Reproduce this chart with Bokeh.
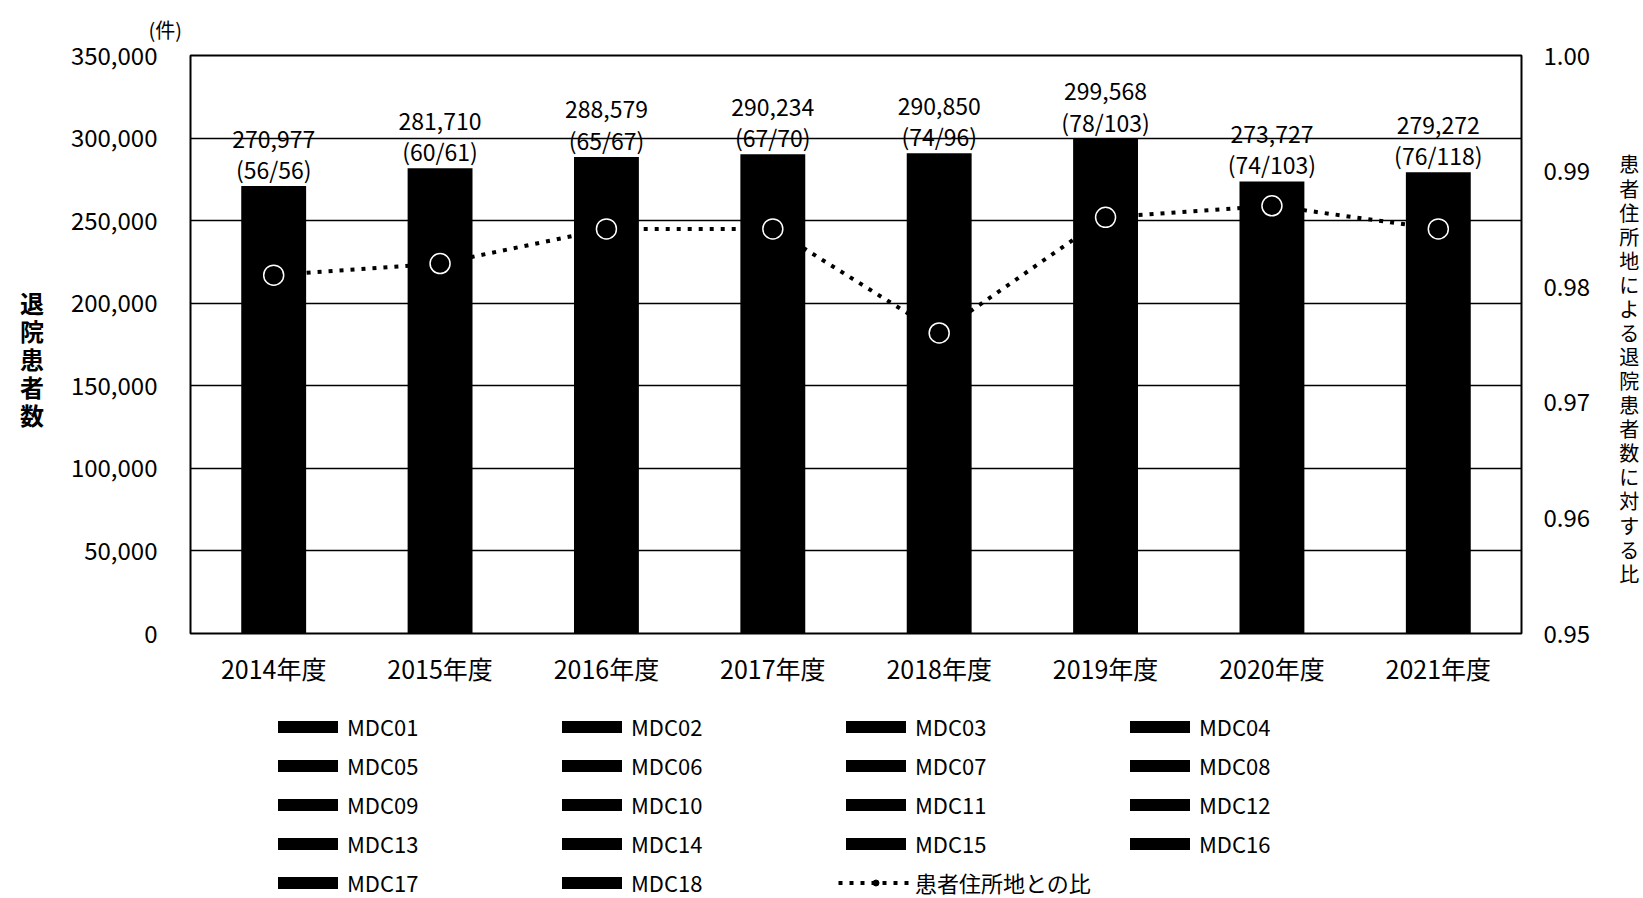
from bokeh.plotting import figure
from bokeh.layouts import column
from bokeh.models import (ColumnDataSource, FactorRange, Range1d, LinearAxis, FixedTicker,
                          NumeralTickFormatter, Legend, LegendItem, Title)
from bokeh.core.properties import value
from bokeh.embed import file_html
from bokeh.resources import INLINE

# Fiscal years on the category axis
years = ["2014年度", "2015年度", "2016年度", "2017年度",
         "2018年度", "2019年度", "2020年度", "2021年度"]
# Discharged patients (all MDC categories combined)
patients = [270977, 281710, 288579, 290234, 290850, 299568, 273727, 279272]
# Facility counts shown under each total
facilities = ["56/56", "60/61", "65/67", "67/70", "74/96", "78/103", "74/103", "76/118"]
# Ratio to discharged patients by patient address
ratio = [0.981, 0.982, 0.985, 0.985, 0.976, 0.986, 0.987, 0.985]
# Legend entries
mdc_names = ["MDC01", "MDC02", "MDC03", "MDC04", "MDC05", "MDC06",
             "MDC07", "MDC08", "MDC09", "MDC10", "MDC11", "MDC12",
             "MDC13", "MDC14", "MDC15", "MDC16", "MDC17", "MDC18"]
ratio_name = "患者住所地との比"

left_title = "退院患者数"
right_title = "患者住所地による退院患者数に対する比"
unit_text = "(件)"

left_ticks = [0, 50000, 100000, 150000, 200000, 250000, 300000, 350000]
right_ticks = [0.95, 0.96, 0.97, 0.98, 0.99, 1.00]

FONT_NAME = "Noto Sans CJK JP"
FONT = value(FONT_NAME)

src = ColumnDataSource(dict(
    year=years,
    patients=patients,
    ratio=ratio,
    total_label=[f"{v:,}" for v in patients],
    fac_label=[f"({f})" for f in facilities],
))

# ---- main chart -------------------------------------------------------------
p = figure(x_range=FactorRange(*years), y_range=Range1d(0, 350000),
           width=1643, height=700, title=None,
           output_backend="svg", toolbar_location=None,
           min_border_left=190, min_border_right=122,
           min_border_top=54, min_border_bottom=67,
           background_fill_color="white", border_fill_color="white")

p.extra_y_ranges = {"ratio": Range1d(0.95, 1.00)}

# frame and grid
p.outline_line_color = "black"
p.outline_line_width = 2
p.xgrid.grid_line_color = None
p.ygrid.grid_line_color = "black"
p.ygrid.grid_line_width = 1.5

# left axis with stacked upright title
ya = p.yaxis[0]
ya.ticker = FixedTicker(ticks=left_ticks)
ya.formatter = NumeralTickFormatter(format="0,0")
ya.axis_line_color = None
ya.major_tick_line_color = None
ya.minor_tick_line_color = None
ya.major_label_standoff = 27
ya.major_label_text_font = FONT_NAME
ya.major_label_text_font_size = "24px"
ya.major_label_text_color = "black"
ya.axis_label = "\n" + "\n".join(left_title)
ya.axis_label_orientation = "horizontal"
ya.axis_label_standoff = 24
ya.axis_label_text_font = FONT_NAME
ya.axis_label_text_font_size = "24px"
ya.axis_label_text_font_style = "bold"
ya.axis_label_text_line_height = 0.805
ya.axis_label_text_color = "black"

# right axis for the ratio
ra = LinearAxis(y_range_name="ratio")
ra.ticker = FixedTicker(ticks=right_ticks)
ra.formatter = NumeralTickFormatter(format="0.00")
ra.axis_line_color = None
ra.major_tick_line_color = None
ra.minor_tick_line_color = None
ra.major_label_standoff = 16
ra.major_label_text_font = FONT_NAME
ra.major_label_text_font_size = "24px"
ra.major_label_text_color = "black"
ra.axis_label = "\n\n" + "\n".join(right_title)
ra.axis_label_orientation = "horizontal"
ra.axis_label_standoff = 26
ra.axis_label_text_font = FONT_NAME
ra.axis_label_text_font_size = "20px"
ra.axis_label_text_font_style = "normal"
ra.axis_label_text_line_height = 0.83
ra.axis_label_text_color = "black"
p.add_layout(ra, "right")

# category axis
xa = p.xaxis[0]
xa.axis_line_color = None
xa.major_tick_line_color = None
xa.minor_tick_line_color = None
xa.major_label_standoff = 10
xa.major_label_text_font = FONT_NAME
xa.major_label_text_font_size = "25px"
xa.major_label_text_color = "black"

# unit note above the left axis
p.add_layout(Title(text=unit_text, align="left", offset=-42, standoff=24,
                   text_font=FONT_NAME, text_font_size="20px",
                   text_font_style="normal", text_color="black"), "above")

# bars
bars = p.vbar(x="year", top="patients", width=0.39, source=src,
              fill_color="black", line_color=None)

# totals and facility counts above bars
p.text(x="year", y="patients", text="total_label", source=src,
       y_offset=-47, text_align="center", text_baseline="middle",
       text_font=FONT, text_font_size="23px", text_color="black")
p.text(x="year", y="patients", text="fac_label", source=src,
       y_offset=-17, text_align="center", text_baseline="middle",
       text_font=FONT, text_font_size="23px", text_color="black")

# ratio line
line = p.line(x="year", y="ratio", source=src, y_range_name="ratio",
              line_color="black", line_width=4, line_dash="4 7")
dots = p.scatter(x="year", y="ratio", source=src, y_range_name="ratio",
                 marker="circle", size=20, fill_color="black",
                 line_color="white", line_width=1.5)

# ---- legend strip -------------------------------------------------------------
leg = figure(width=1643, height=198, x_range=(0, 1), y_range=(0, 1),
             output_backend="svg", toolbar_location=None, title=None,
             min_border=0, outline_line_color=None,
             background_fill_color="white", border_fill_color="white")
leg.axis.visible = False
leg.grid.visible = False

# key glyphs sit outside the strip's visible range; only their legend swatches show
key_src = ColumnDataSource(dict(x=[-5], y=[-5]))
key_bar = leg.vbar(x="x", top="y", width=0.1, source=key_src,
                   fill_color="black", line_color=None)
key_line = leg.line(x="x", y="y", source=key_src, line_color="black",
                    line_width=4, line_dash="4 7")
key_dot = leg.scatter(x="x", y="y", source=key_src, marker="circle", size=13,
                      fill_color="black", line_color="black", line_width=1)

items = [LegendItem(label=name, renderers=[key_bar]) for name in mdc_names]
items.append(LegendItem(label=ratio_name, renderers=[key_line, key_dot]))
legend = Legend(items=items, location=(80, 0), orientation="horizontal", ncols=4,
                glyph_width=75, glyph_height=15, label_standoff=2,
                label_width=200, label_height=15, spacing=7, padding=0, margin=0,
                border_line_color=None, background_fill_alpha=0,
                label_text_font=FONT_NAME, label_text_font_size="22px",
                label_text_color="black")
leg.add_layout(legend, "center")

page = column(p, leg, spacing=0)
open("out.html", "w").write(file_html(page, INLINE))
